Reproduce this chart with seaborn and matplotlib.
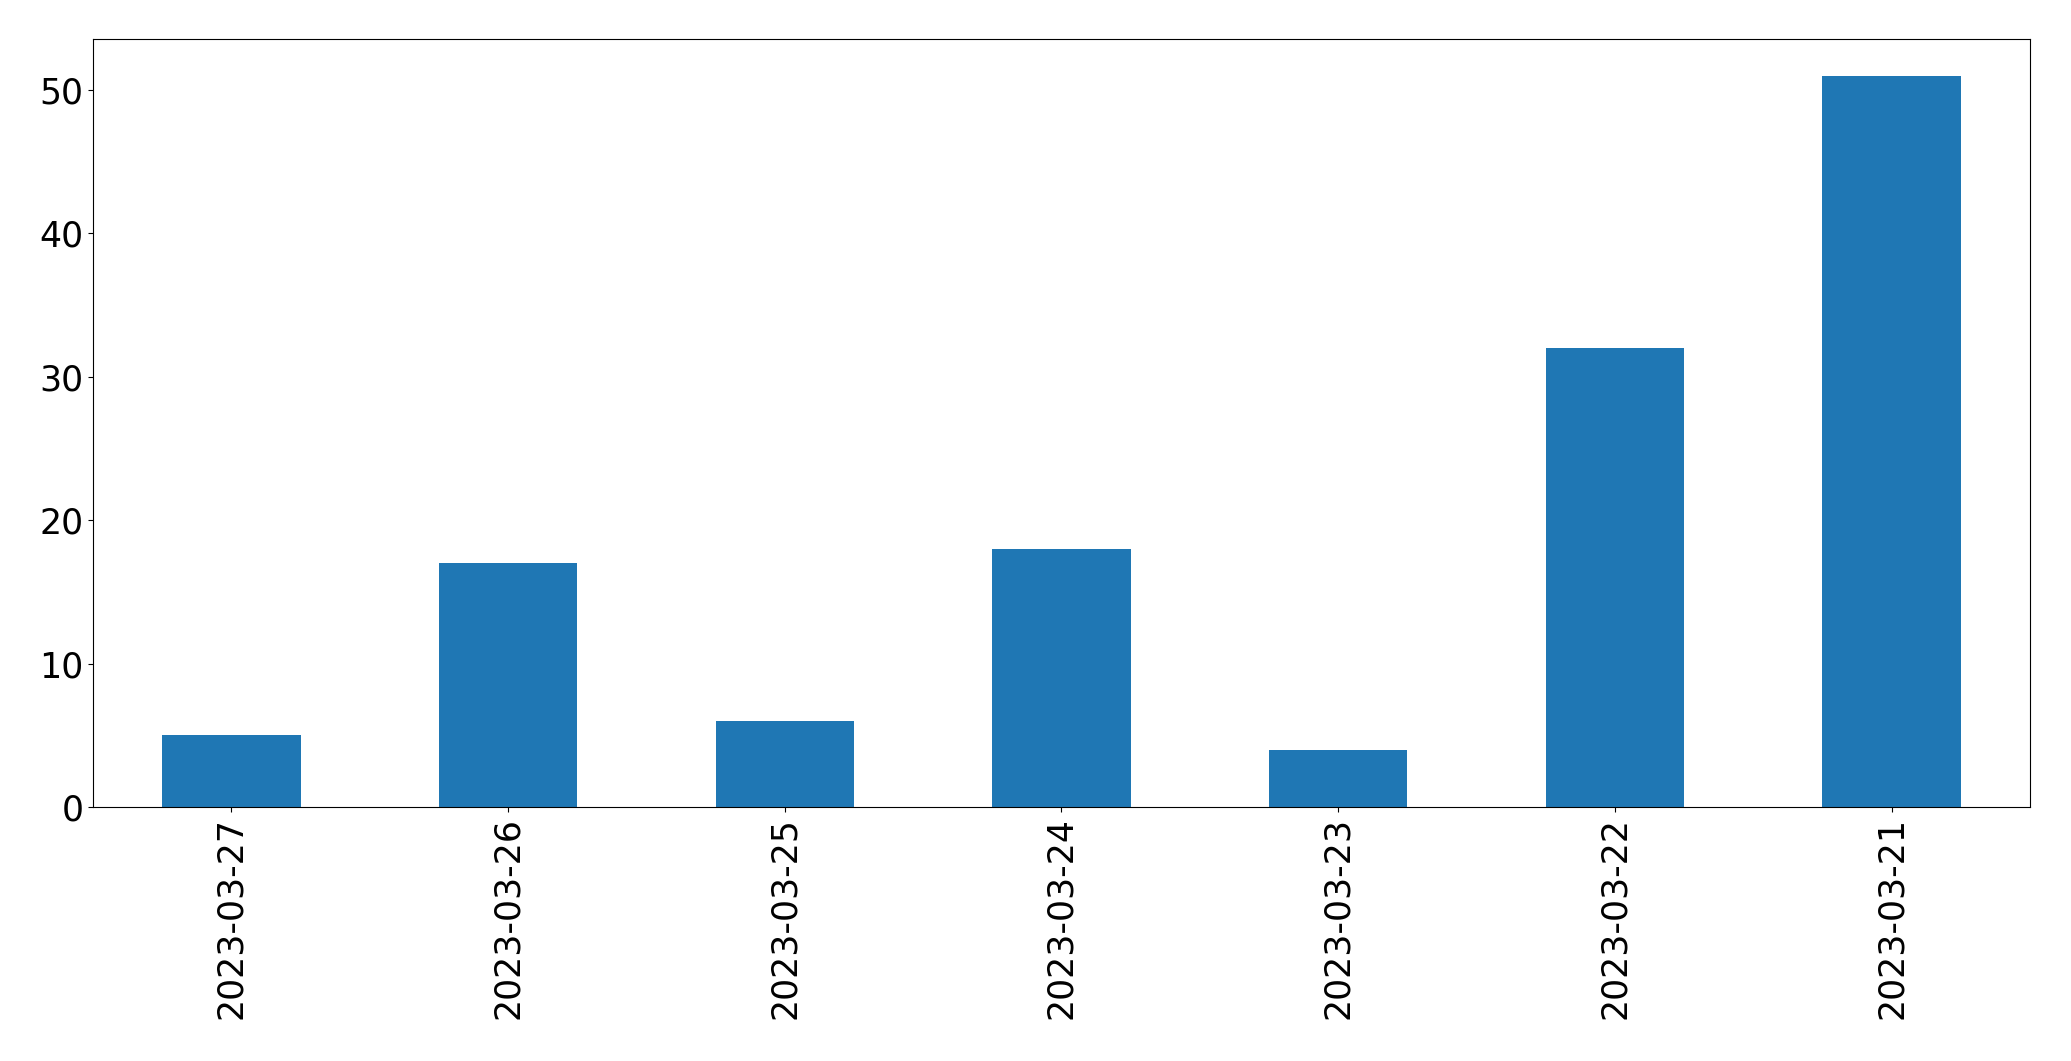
import matplotlib
matplotlib.use("Agg")
import matplotlib.pyplot as plt
import seaborn as sns
import pandas as pd

# daily counts, newest first (as in the source chart)
dates = ["2023-03-27", "2023-03-26", "2023-03-25", "2023-03-24",
         "2023-03-23", "2023-03-22", "2023-03-21"]
counts = [5, 17, 6, 18, 4, 32, 51]

df = pd.DataFrame({"date": dates, "count": counts})

plt.rcParams["font.size"] = 25

fig = plt.figure(figsize=(20.71, 10.61), dpi=100)
ax = fig.add_axes([0.0449, 0.2392, 0.9353, 0.7241])

sns.barplot(data=df, x="date", y="count", order=dates, color="#1f77b4",
            saturation=1, width=0.5, linewidth=0, ax=ax)

ax.set_xlim(-0.5, len(dates) - 0.5)
ax.set_ylim(0, max(counts) * 1.05)
ax.set_xlabel("")
ax.set_ylabel("")
ax.tick_params(axis="x", labelrotation=90)

fig.savefig("out.png", dpi=100)
plt.close(fig)
